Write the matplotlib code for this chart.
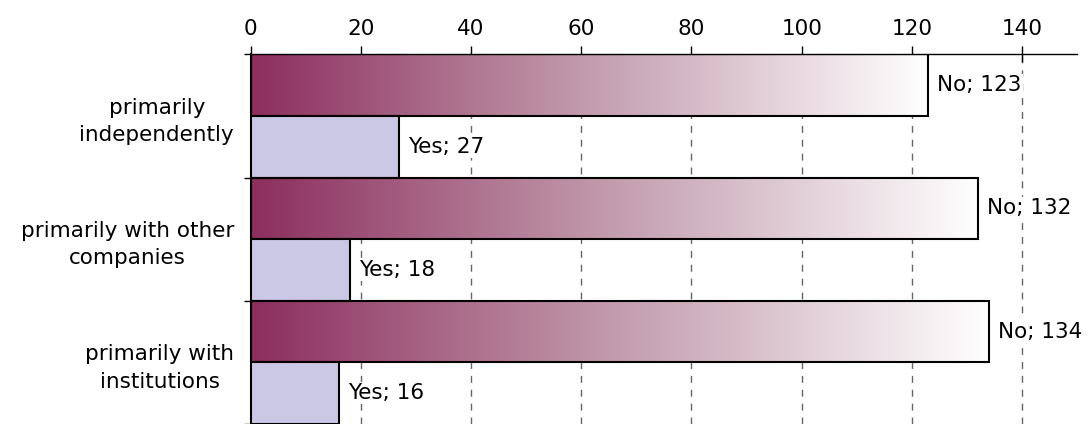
import matplotlib
matplotlib.use("Agg")
import matplotlib.pyplot as plt
import numpy as np
from matplotlib.colors import LinearSegmentedColormap
from matplotlib.ticker import FixedLocator

categories = ["primarily\nindependently", "primarily with other\ncompanies", "primarily with\ninstitutions"]
no_counts = [123, 132, 134]
yes_counts = [27, 18, 16]

plt.rcParams['font.family'] = ['DejaVu Sans']
plt.rcParams['font.size'] = 15.5

fig = plt.figure(figsize=(10.91, 4.24), dpi=100)
ax = fig.add_axes([0.2298, 0.0, 0.7575, 0.872])

grad = LinearSegmentedColormap.from_list(
    "no_grad", [(0.0, "#8C2F5E"), (0.5, "#C39DAE"), (1.0, "#ffffff")])
yes_color = "#CAC8E4"
bar_h = 0.5

y = np.arange(len(categories))
for i in range(len(categories)):
    # "No" bar: top half of the group, gradient fill
    top = i - 0.5
    bottom = i
    ax.imshow(np.linspace(0, 1, 256).reshape(1, -1), cmap=grad, aspect='auto',
              extent=[0, no_counts[i], bottom, top], zorder=2, interpolation='bilinear')
    ax.barh(i - bar_h / 2, no_counts[i], height=bar_h, facecolor='none',
            edgecolor='black', linewidth=1.5, zorder=3)
    # "Yes" bar: bottom half
    ax.barh(i + bar_h / 2, yes_counts[i], height=bar_h, color=yes_color,
            edgecolor='black', linewidth=1.5, zorder=3)

    ax.text(no_counts[i] + 1.6, i - bar_h / 2, f"No; {no_counts[i]}", va='center', ha='left',
            zorder=4, bbox=dict(facecolor='white', edgecolor='none', pad=1))
    ax.text(yes_counts[i] + 1.6, i + bar_h / 2, f"Yes; {yes_counts[i]}", va='center', ha='left',
            zorder=4, bbox=dict(facecolor='white', edgecolor='none', pad=1))

ax.set_xlim(0, 150)
ax.set_ylim(len(categories) - 0.5, -0.5)

ax.xaxis.tick_top()
ax.set_xticks(range(0, 141, 20))
ax.tick_params(axis='x', direction='inout', length=12, width=1, pad=5)
ax.xaxis.grid(True, linestyle=(0, (5, 5)), color='#666666', linewidth=1)
ax.set_axisbelow(True)

ax.set_yticks(y)
ax.set_yticklabels(categories, multialignment='center', linespacing=1.45)
ax.tick_params(axis='y', which='major', length=0, pad=12)
ax.yaxis.set_minor_locator(FixedLocator(np.arange(-0.5, len(categories), 1)))
ax.tick_params(axis='y', which='minor', length=5, direction='out', width=1)

for side in ['right', 'bottom']:
    ax.spines[side].set_visible(False)
ax.spines['top'].set_linewidth(1)
ax.spines['left'].set_linewidth(1.5)

fig.savefig("out.png", dpi=100)
